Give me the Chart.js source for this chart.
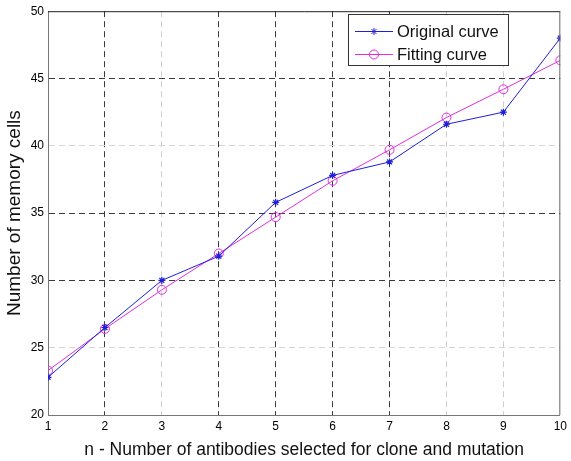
<!DOCTYPE html>
<html>
<head>
<meta charset="utf-8">
<script src="https://cdn.jsdelivr.net/npm/chart.js@4.4.1/dist/chart.umd.min.js"></script>
<style>
  html, body { margin: 0; padding: 0; background: #fff; }
  #wrap { width: 571px; height: 461px; }
</style>
</head>
<body>
<div id="wrap"><canvas id="c" width="571" height="461"></canvas></div>
<script>
const nValues = [1, 2, 3, 4, 5, 6, 7, 8, 9, 10];
const originalCells = [22.8, 26.5, 30.0, 31.8, 35.8, 37.8, 38.8, 41.6, 42.5, 48.0];
const fittedCells = [23.3, 26.4, 29.3, 32.0, 34.7, 37.4, 39.7, 42.1, 44.2, 46.35];
const seriesNames = ["Original curve", "Fitting curve"];

// grid lines that print darker than the rest
const darkXGrid = [2, 4, 5, 6, 7];
const darkYGrid = [30, 35, 45];

const FONT = "'Liberation Sans', Arial, sans-serif";
const BLUE = "#1f1fd8";
const MAGENTA = "#e02ee0";

const pts = (ys) => nValues.map((x, i) => ({ x, y: ys[i] }));

// frame around the plot plus the boxed legend in the upper right
const frameAndLegend = {
  id: "frameAndLegend",
  afterDraw(chart) {
    const { ctx, chartArea: a } = chart;
    ctx.save();
    ctx.lineWidth = 1;
    ctx.strokeStyle = "#222";
    ctx.beginPath();
    ctx.moveTo(a.left, a.top + 0.5);
    ctx.lineTo(a.right, a.top + 0.5);
    ctx.stroke();
    ctx.strokeStyle = "#666";
    ctx.beginPath();
    ctx.moveTo(a.right - 0.5, a.top);
    ctx.lineTo(a.right - 0.5, a.bottom);
    ctx.stroke();

    const bx = 348.5, by = 14.5, bw = 160, bh = 51;
    ctx.fillStyle = "#fff";
    ctx.fillRect(bx, by, bw, bh);
    ctx.strokeStyle = "#333";
    ctx.strokeRect(bx, by, bw, bh);

    const rows = [
      { ds: chart.data.datasets[0], y: 31 },
      { ds: chart.data.datasets[1], y: 54 },
    ];
    ctx.font = "16.5px " + FONT;
    ctx.textBaseline = "middle";
    rows.forEach(({ ds, y }) => {
      ctx.strokeStyle = ds.borderColor;
      ctx.lineWidth = 1;
      ctx.beginPath();
      ctx.moveTo(355, y + 0.5);
      ctx.lineTo(393, y + 0.5);
      ctx.stroke();
      ctx.fillStyle = ds.backgroundColor;
      Chart.helpers.drawPoint(ctx, {
        pointStyle: ds.pointStyle,
        radius: ds.pointRadius,
        borderWidth: 1,
      }, 374, y + 0.5);
      ctx.fillStyle = "#111";
      ctx.fillText(ds.label, 397, y + 1);
    });
    ctx.restore();
  },
};

new Chart(document.getElementById("c"), {
  type: "line",
  data: {
    datasets: [
      {
        label: seriesNames[0],
        data: pts(originalCells),
        borderColor: BLUE,
        backgroundColor: BLUE,
        borderWidth: 1,
        pointStyle: "star",
        pointRadius: 3.5,
        pointBorderWidth: 1.2,
        tension: 0,
      },
      {
        label: seriesNames[1],
        data: pts(fittedCells),
        borderColor: MAGENTA,
        backgroundColor: "rgba(255,255,255,0)",
        borderWidth: 1,
        pointStyle: "circle",
        pointRadius: 4.5,
        pointBorderWidth: 1,
        tension: 0,
      },
    ],
  },
  options: {
    responsive: false,
    animation: false,
    layout: { padding: { top: 11, right: 6, left: 0, bottom: 0 } },
    plugins: {
      legend: { display: false },
      tooltip: { enabled: false },
    },
    scales: {
      x: {
        type: "linear",
        min: 1,
        max: 10,
        afterFit: (s) => { s.height = 46; },
        ticks: {
          stepSize: 1,
          color: "#000",
          padding: 4,
          font: { family: FONT, size: 12 },
        },
        grid: {
          color: (c) => darkXGrid.includes(c.tick.value) ? "#3a3a3a" : "#cfcfcf",
          tickLength: 0,
          lineWidth: (c) => (c.tick.value === 1 || c.tick.value === 10) ? 0 : 1,
        },
        border: { color: "#777", dash: [6, 4] },
        title: {
          display: true,
          text: "n - Number of antibodies selected for clone and mutation",
          color: "#111",
          font: { family: FONT, size: 17.5 },
          padding: { top: 1, bottom: 0 },
        },
      },
      y: {
        min: 20,
        max: 50,
        afterFit: (s) => { s.width = 48; },
        ticks: {
          stepSize: 5,
          color: "#000",
          padding: 4,
          font: { family: FONT, size: 12 },
        },
        grid: {
          color: (c) => darkYGrid.includes(c.tick.value) ? "#3a3a3a" : "#d6d6d6",
          tickLength: 0,
          lineWidth: (c) => (c.tick.value === 20 || c.tick.value === 50) ? 0 : 1,
        },
        border: { color: "#777", dash: [6, 4] },
        title: {
          display: true,
          text: "Number of memory cells",
          color: "#111",
          font: { family: FONT, size: 19 },
          padding: { top: 3, bottom: 2 },
        },
      },
    },
  },
  plugins: [frameAndLegend],
});
</script>
</body>
</html>
